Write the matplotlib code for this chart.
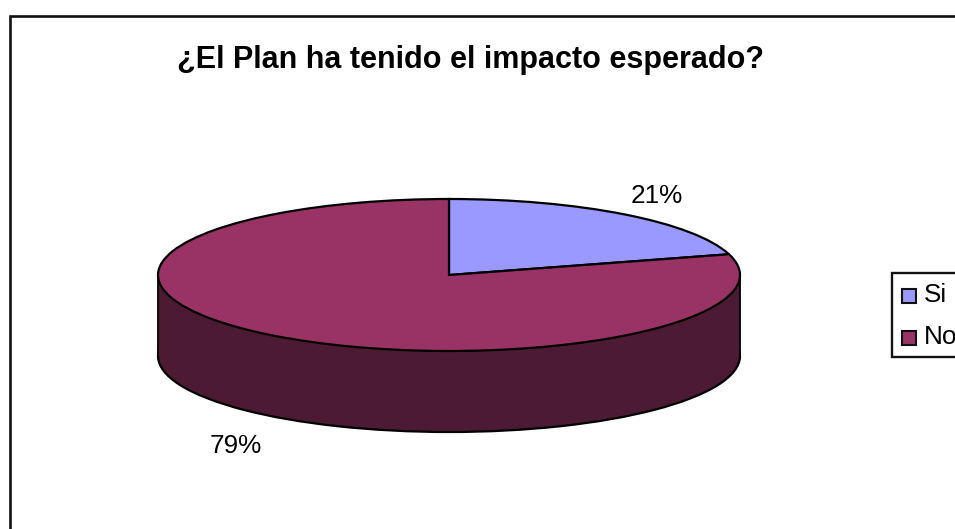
import numpy as np
import matplotlib
matplotlib.use("Agg")
import matplotlib.pyplot as plt
from matplotlib.patches import Rectangle

# datos
categorias = ["Si", "No"]
valores = [20.6, 79.4]
etiquetas = ["21%", "79%"]
colores = ["#9999FF", "#993366"]
color_lado = "#4D1A33"

W, H = 955, 529
plt.rcParams["font.family"] = ["Liberation Sans", "DejaVu Sans"]

fig = plt.figure(figsize=(W / 100, H / 100), dpi=100)
fig.patch.set_facecolor("white")

# marco exterior, en pixeles
fondo = fig.add_axes([0, 0, 1, 1])
fondo.set_xlim(0, W)
fondo.set_ylim(H, 0)
fondo.axis("off")
fondo.plot([9.5, 9.5, W], [H, 16, 16], color="#111111", lw=1.9, solid_joinstyle="miter")

# ejes donde la elipse del pastel es un circulo unidad
cx, cy, rx, ry, prof = 449, 275, 291, 76, 81
ax = fig.add_axes([(cx - rx) / W, 1 - (cy + ry) / H, 2 * rx / W, 2 * ry / H])
ax.set_xlim(-1, 1)
ax.set_ylim(-1, 1)
ax.axis("off")
d = prof / ry

# lado del cilindro
ax.pie([1], radius=1, center=(0, -d), colors=[color_lado], frame=False,
       wedgeprops=dict(edgecolor="black", linewidth=1.6, clip_on=False))
ax.add_patch(Rectangle((-1, -d), 2, d, facecolor=color_lado, edgecolor="none",
                       clip_on=False, zorder=2))
ax.plot([-1, -1], [0, -d], color="black", lw=1.3, clip_on=False, zorder=3)
ax.plot([1, 1], [0, -d], color="black", lw=1.3, clip_on=False, zorder=3)

# tapa
trozos, _ = ax.pie(valores, radius=1, center=(0, 0), colors=colores, startangle=90,
                   counterclock=False, frame=False,
                   wedgeprops=dict(edgecolor="black", linewidth=1.6, clip_on=False, zorder=4))
ax.set_aspect("auto")
ax.set_xlim(-1, 1)
ax.set_ylim(-1, 1)

# titulo y etiquetas
fondo.text(470.5, 60, "¿El Plan ha tenido el impacto esperado?", fontsize=22, fontweight="bold",
           ha="center", va="center")
fondo.text(657, 196, etiquetas[0], fontsize=18.8, ha="center", va="center")
fondo.text(236, 446, etiquetas[1], fontsize=18.8, ha="center", va="center")

# leyenda cortada por el borde derecho
fondo.add_patch(Rectangle((892, 272.5), 90, 84.5, facecolor="white", edgecolor="#111111", lw=1.7))
for i, nombre in enumerate(categorias):
    y = 295.5 + i * 42
    fondo.add_patch(Rectangle((901.5, y - 7), 14, 14, facecolor=colores[i], edgecolor="#111111", lw=1.5))
    fondo.text(924, y, nombre, fontsize=18.8, va="center", ha="left")

fig.savefig("out.png", dpi=100)
